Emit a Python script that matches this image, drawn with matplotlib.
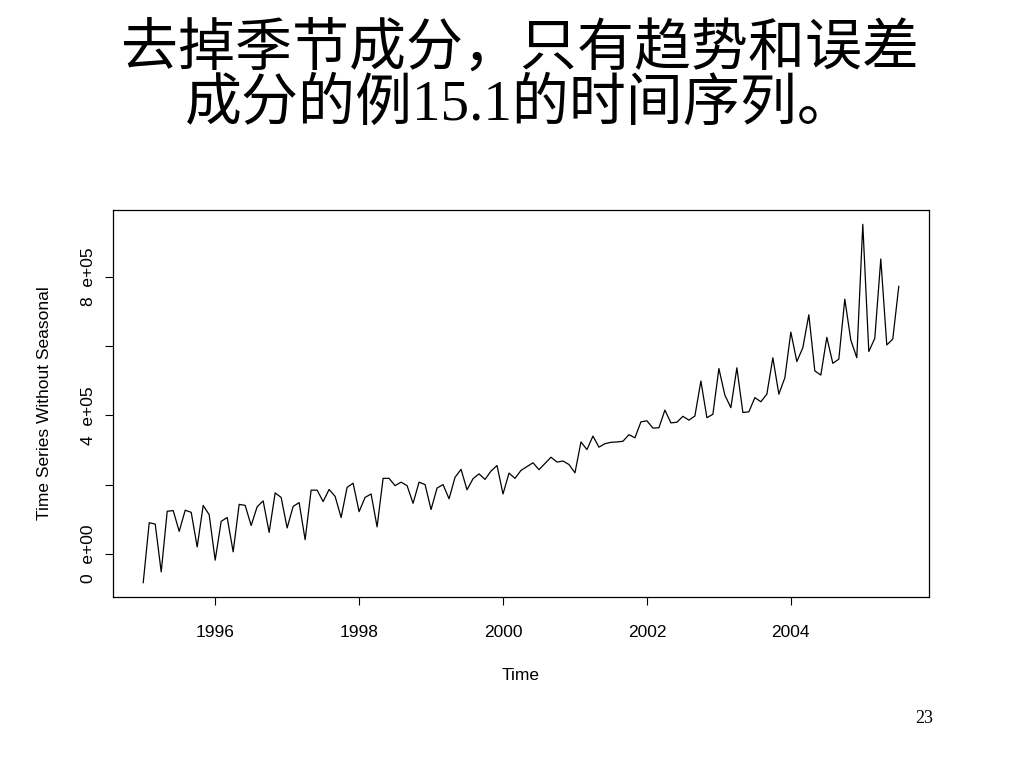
import numpy as np
import matplotlib
matplotlib.use("Agg")
import matplotlib.pyplot as plt
from matplotlib.ticker import FixedLocator, FixedFormatter

# deseasonalised monthly series, Jan 1995 .. Jul 2005 (in units of 1000)
start_year = 1995
vals_k = [
    -83, 90, 86, -52, 123, 125, 65, 126, 120, 20, 140, 113,      # 1995
    -18, 94, 105, 6, 143, 140, 82, 136, 153, 62, 176, 163,       # 1996
    75, 137, 148, 41, 184, 184, 151, 186, 166, 105, 192, 204,    # 1997
    122, 163, 173, 78, 218, 218, 197, 207, 197, 146, 207, 200,   # 1998
    128, 190, 200, 159, 221, 244, 185, 217, 231, 215, 239, 255,  # 1999
    173, 233, 218, 241, 252, 263, 243, 261, 279, 265, 268, 258,  # 2000
    234, 323, 301, 340, 308, 318, 322, 323, 325, 344, 335, 381,  # 2001
    384, 363, 364, 415, 378, 380, 397, 386, 398, 499, 393, 403,  # 2002
    535, 458, 422, 537, 408, 410, 451, 439, 461, 566, 461, 508,  # 2003
    640, 555, 595, 690, 528, 516, 625, 550, 562, 735, 617, 566,  # 2004
    951, 584, 622, 851, 603, 620, 772,                           # 2005
]
x_ticks = [1996, 1998, 2000, 2002, 2004]
y_ticks = [0, 2e5, 4e5, 6e5, 8e5]
y_tick_labels = ["0  e+00", "", "4  e+05", "", "8  e+05"]

title_lines = ["去掉季节成分，只有趋势和误差", "成分的例15.1的时间序列。"]

values = np.array(vals_k, dtype=float) * 1000
t = start_year + np.arange(len(values)) / 12.0

plt.rcParams['font.family'] = ['Liberation Sans', 'DejaVu Sans']

fig = plt.figure(figsize=(10.24, 7.68), dpi=100)
ax = fig.add_axes([113/1024, 1 - 597/768, (929-113)/1024, (597-210)/768])

ax.plot(t, values, color='black', linewidth=0.9)

# R style 4% padding
xr = t.max() - t.min()
yr = values.max() - values.min()
ax.set_xlim(t.min() - 0.04*xr, t.max() + 0.04*xr)
ax.set_ylim(values.min() - 0.04*yr, values.max() + 0.04*yr)

ax.xaxis.set_major_locator(FixedLocator(x_ticks))
ax.set_xticklabels([str(x) for x in x_ticks])
ax.yaxis.set_major_locator(FixedLocator(y_ticks))
ax.yaxis.set_major_formatter(FixedFormatter(y_tick_labels))
for lab in ax.get_yticklabels():
    lab.set_rotation(90)
    lab.set_va('center')

ax.tick_params(axis='x', direction='out', length=6, width=0.8, labelsize=12.5, pad=14)
ax.tick_params(axis='y', direction='out', length=6, width=0.8, labelsize=12.5, pad=6)
for s in ax.spines.values():
    s.set_linewidth(0.9)

ax.set_xlabel("Time", fontsize=12.5, labelpad=20)
ax.set_ylabel("Time Series Without Seasonal", fontsize=12.5, labelpad=21)

title_y = [50, 105]
for line, yy in zip(title_lines, title_y):
    fig.text(0.508, 1 - yy/768, line, ha='center', va='center', fontsize=41,
             family=['Liberation Serif', 'Noto Sans CJK SC'])
fig.text(0.903, 0.065, "23", ha='center', va='center', fontsize=13,
         family=['Liberation Serif'])

fig.savefig("out.png", dpi=100)
